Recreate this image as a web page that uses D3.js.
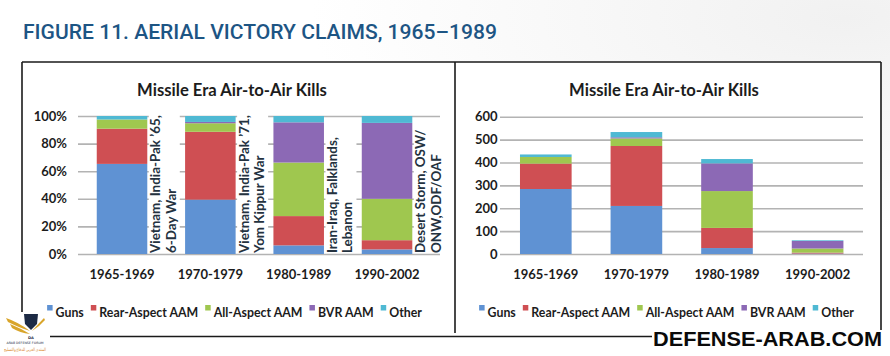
<!DOCTYPE html>
<html>
<head>
<meta charset="utf-8">
<script src="https://cdn.jsdelivr.net/npm/d3@7"></script>
<style>
  html, body { margin: 0; padding: 0; background: #ffffff; }
  svg { display: block; }
</style>
</head>
<body>
<svg id="chart" width="890" height="356"></svg>
<script>
// ---------- DATA ----------
const categories = ["1965-1969", "1970-1979", "1980-1989", "1990-2002"];
const seriesNames = ["Guns", "Rear-Aspect AAM", "All-Aspect AAM", "BVR AAM", "Other"];
const guns       = [284, 210, 26, 2];
const rearAspect = [111, 262, 88, 4];
const allAspect  = [29, 33, 161, 18];
const bvrAam     = [0, 5, 121, 33];
const other      = [11, 23, 19, 3];
const percentTicks = [0, 0.2, 0.4, 0.6, 0.8, 1.0];
const countTicks = [0, 100, 200, 300, 400, 500, 600];
const conflictNotes = [
  ["Vietnam, India-Pak \u201965,", "6-Day War"],
  ["Vietnam, India-Pak \u201971,", "Yom Kippur War"],
  ["Iran-Iraq, Falklands,", "Lebanon"],
  ["Desert Storm, OSW/", "ONW,ODF/OAF"]
];
const chartTitle = "Missile Era Air-to-Air Kills";
const figureTitle = "FIGURE 11. AERIAL VICTORY CLAIMS, 1965\u20131989";

// ---------- SETUP ----------
const colors = ["#5f92d3", "#cf4f53", "#9fc74f", "#8c69b5", "#4fb9d3"];
const keys = ["guns", "rear", "all", "bvr", "other"];
const rows = categories.map((c, i) => ({
  cat: c, guns: guns[i], rear: rearAspect[i], all: allAspect[i], bvr: bvrAam[i], other: other[i]
}));
const color = d3.scaleOrdinal().domain(keys).range(colors);
const FONT = "Lato, 'Open Sans', sans-serif";
const TXT = "#1c1c1c";

const svg = d3.select("#chart");

// font size fitting a target width
function fitSize(str, target, weight) {
  const t = svg.append("text").attr("font-family", FONT).attr("font-weight", weight)
    .attr("font-size", 20).text(str);
  const w = t.node().getComputedTextLength();
  t.remove();
  return 20 * target / w;
}
const titleSize = fitSize(chartTitle, 190, 700);
const legendSize = fitSize("Rear-Aspect AAM", 99, 700);
const noteSize = fitSize(conflictNotes[0][0], 138, 700);

// subtle background
const defs = svg.append("defs");
const grad = defs.append("radialGradient").attr("id", "bg").attr("cx", "0.95").attr("cy", "0.05").attr("r", "0.6");
grad.append("stop").attr("offset", "0").attr("stop-color", "#f1f1f1");
grad.append("stop").attr("offset", "1").attr("stop-color", "#ffffff");
svg.append("rect").attr("width", 890).attr("height", 356).attr("fill", "url(#bg)");
svg.append("rect").attr("x", 22).attr("y", 62).attr("width", 859).attr("height", 274).attr("fill", "#ffffff");

// Figure title
svg.append("text")
  .attr("x", 23).attr("y", 38.5)
  .attr("font-family", "Roboto, 'Open Sans', sans-serif")
  .attr("font-weight", 500)
  .attr("font-size", 21)
  .attr("fill", "#1d5584")
  .attr("textLength", 474)
  .attr("lengthAdjust", "spacingAndGlyphs")
  .text(figureTitle);

// ---------- PANEL FUNCTION ----------
function drawPanel(opt) {
  const g = svg.append("g");
  const x = d3.scaleBand().domain(categories).range(opt.xRange).paddingInner(opt.padIn).paddingOuter(opt.padOut);
  const y = d3.scaleLinear().domain(opt.yDomain).range([254, opt.yTop]);

  // grid + y labels via axis
  const yAxis = d3.axisLeft(y).tickValues(opt.ticks).tickFormat(opt.fmt)
    .tickSizeInner(-(opt.gridEnd - opt.gridStart)).tickSizeOuter(0).tickPadding(opt.tickPad);
  const ya = g.append("g").attr("transform", `translate(${opt.gridStart},0)`).call(yAxis);
  ya.select(".domain").remove();
  ya.selectAll(".tick line").attr("stroke", "#b3b3b3").attr("stroke-width", 1.6);
  ya.selectAll(".tick text").attr("font-family", FONT).attr("font-weight", 700)
    .attr("font-size", 13).attr("fill", TXT);

  // bars
  const stack = d3.stack().keys(keys);
  if (opt.expand) stack.offset(d3.stackOffsetExpand);
  const layers = stack(rows);
  g.append("g").selectAll("g").data(layers).join("g")
    .attr("fill", d => color(d.key))
    .selectAll("rect").data(d => d).join("rect")
    .attr("x", d => x(d.data.cat))
    .attr("width", x.bandwidth())
    .attr("y", d => y(d[1]))
    .attr("height", d => Math.max(0, y(d[0]) - y(d[1])));

  // x labels via axis
  const xAxis = d3.axisBottom(x).tickSize(0).tickPadding(16);
  const xa = g.append("g").attr("transform", "translate(0,254)").call(xAxis);
  xa.select(".domain").remove();
  xa.selectAll(".tick text").attr("font-family", FONT).attr("font-weight", 700)
    .attr("font-size", 13).attr("fill", TXT);

  // chart title
  g.append("text").attr("x", opt.titleX).attr("y", 95.5).attr("text-anchor", "middle")
    .attr("font-family", FONT).attr("font-weight", 700).attr("font-size", titleSize).attr("fill", TXT)
    .text(chartTitle);

  // annotations
  if (opt.notes) {
    categories.forEach((c, i) => {
      const bx = x(c) + x.bandwidth();
      const ng = g.append("g");
      const bgRect = ng.append("rect").attr("fill", "#ffffff");
      let maxLen = 0;
      opt.notes[i].forEach((line, j) => {
        const cx = bx + 8 + j * 15.5;
        const t = ng.append("text")
          .attr("transform", `translate(${cx},253) rotate(-90)`)
          .attr("dominant-baseline", "central")
          .attr("font-family", FONT).attr("font-weight", 700)
          .attr("font-size", noteSize).attr("fill", "#24323f")
          .text(line);
        maxLen = Math.max(maxLen, t.node().getComputedTextLength());
      });
      bgRect.attr("x", bx + 1.5).attr("y", 253 - maxLen - 1)
        .attr("width", 31).attr("height", maxLen + 1);
    });
  }

  // legend
  const lg = g.append("g");
  let cx = 0;
  seriesNames.forEach((name, i) => {
    const it = lg.append("g");
    it.append("rect").attr("x", 0).attr("y", 305).attr("width", 5.5).attr("height", 5.5).attr("fill", colors[i]);
    const t = it.append("text").attr("x", 8.5).attr("y", 316.5)
      .attr("font-family", FONT).attr("font-weight", 700).attr("font-size", legendSize).attr("fill", TXT).text(name);
    const w = 8.5 + t.node().getComputedTextLength();
    it.attr("transform", `translate(${cx},0)`);
    cx += w + 7;
  });
  const totalW = cx - 7;
  lg.attr("transform", `translate(${opt.legendCenter - totalW / 2},0)`);
}

drawPanel({
  xRange: [77.85, 431.2], padIn: 0.428, padOut: 0.214,
  yDomain: [0, 1], yTop: 116, ticks: percentTicks, fmt: d3.format(".0%"),
  gridStart: 78, gridEnd: 440, tickPad: 11,
  expand: true, titleX: 232, notes: conflictNotes, legendCenter: 234.5
});

drawPanel({
  xRange: [500.5, 862.9], padIn: 0.43, padOut: 0.215,
  yDomain: [0, 600], yTop: 116.7, ticks: countTicks, fmt: d3.format("d"),
  gridStart: 500, gridEnd: 863, tickPad: 2.5,
  expand: false, titleX: 664, notes: null, legendCenter: 666.5
});

// ---------- FRAME ----------
const frame = svg.append("g").attr("stroke", "#1a1a1a").attr("stroke-width", 1.6).attr("fill", "none");
frame.append("line").attr("x1", 22).attr("y1", 62).attr("x2", 881).attr("y2", 62);
frame.append("line").attr("x1", 22).attr("y1", 62).attr("x2", 22).attr("y2", 336.5);
frame.append("line").attr("x1", 22).attr("y1", 336.5).attr("x2", 652).attr("y2", 336.5);
frame.append("line").attr("x1", 455).attr("y1", 62).attr("x2", 455).attr("y2", 333);
frame.append("line").attr("x1", 881).attr("y1", 62).attr("x2", 881).attr("y2", 330);

// watermark
svg.append("text").attr("x", 653).attr("y", 346)
  .attr("font-family", "'Liberation Sans', Arial, sans-serif").attr("font-weight", 700)
  .attr("font-size", 21).attr("fill", "#0a0a0a")
  .attr("textLength", 229).attr("lengthAdjust", "spacingAndGlyphs")
  .text("DEFENSE-ARAB.COM");

// logo (decorative)
const logo = svg.append("g");
logo.append("rect").attr("x", 0).attr("y", 312).attr("width", 50).attr("height", 44).attr("fill", "#ffffff");
logo.append("path").attr("d", "M24,314 L38,314 L37,324 L31,330 L25,324 Z").attr("fill", "#1c2a44");
logo.append("path").attr("d", "M6,318 Q18,322 30,331 Q20,328 8,322 Z").attr("fill", "#d9a52a");
logo.append("path").attr("d", "M10,324 Q20,328 30,334 Q20,333 12,328 Z").attr("fill", "#d9a52a");
logo.append("path").attr("d", "M44,318 Q38,324 32,331 Q40,326 45,320 Z").attr("fill", "#d9a52a");
logo.append("text").attr("x", 31).attr("y", 339).attr("text-anchor", "middle")
  .attr("font-family", "'DejaVu Sans', sans-serif").attr("font-weight", 700).attr("font-size", 3.6).attr("fill", "#1c2a44")
  .text("DA");
logo.append("text").attr("x", 25).attr("y", 344).attr("text-anchor", "middle")
  .attr("font-family", "'DejaVu Sans', sans-serif").attr("font-size", 3.2).attr("fill", "#1c2a44")
  .text("ARAB DEFENSE FORUM");
logo.append("text").attr("x", 25).attr("y", 351).attr("text-anchor", "middle")
  .attr("font-family", "'Noto Sans', 'DejaVu Sans', sans-serif").attr("font-size", 4.5).attr("fill", "#d9862a")
  .attr("textLength", 42).attr("lengthAdjust", "spacingAndGlyphs")
  .text("المنتدى العربي للدفاع والتسليح");
</script>
</body>
</html>
